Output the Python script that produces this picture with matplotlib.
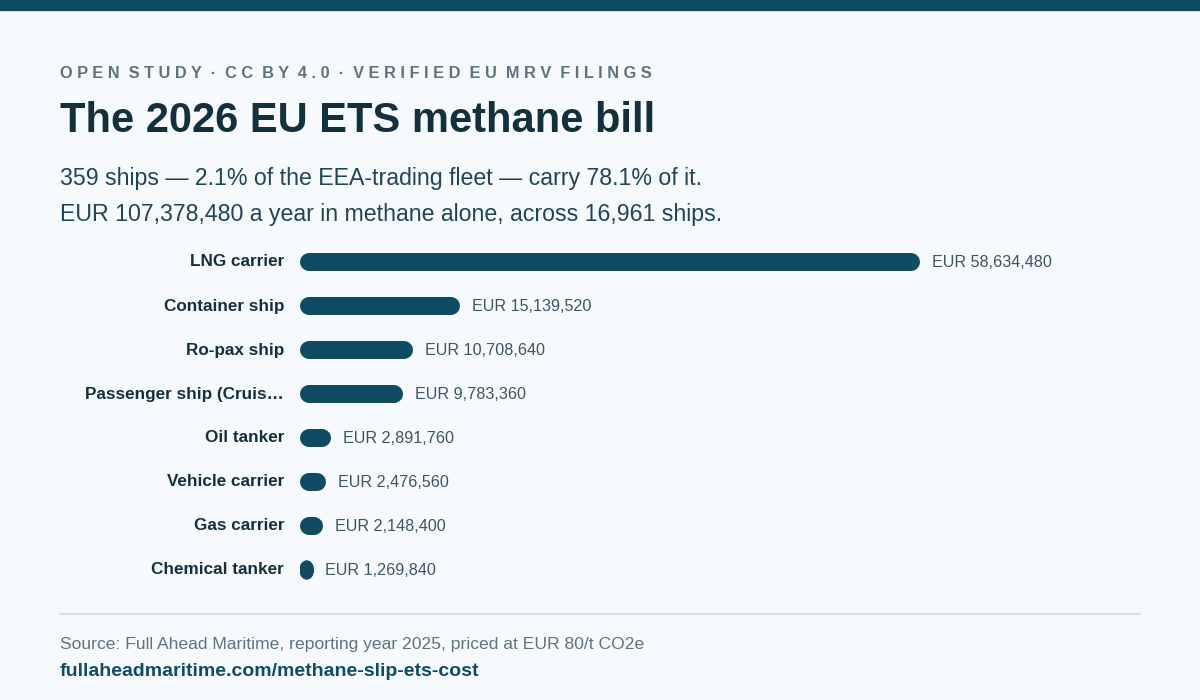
import matplotlib.pyplot as plt
from matplotlib.patches import Rectangle, Ellipse

categories = ['LNG carrier', 'Container ship', 'Ro-pax ship', 'Passenger ship (Cruis…',
              'Oil tanker', 'Vehicle carrier', 'Gas carrier', 'Chemical tanker']
costs = [58634480, 15139520, 10708640, 9783360, 2891760, 2476560, 2148400, 1269840]

bg = '#f6fafd'
bar_color = '#0f4c63'
dark = '#13303f'
grey = '#5d7380'

plt.rcParams['font.family'] = ['Liberation Sans', 'DejaVu Sans']
fig = plt.figure(figsize=(12, 7), dpi=100, facecolor=bg)

# top stripe
fig.patches.append(Rectangle((0, 1 - 10 / 700), 1, 10 / 700, transform=fig.transFigure,
                             color=bar_color, zorder=0))

header = '  ·  '.join(' '.join(w) for w in ['OPEN', 'STUDY']) if False else None
header = 'O P E N  S T U D Y  ·  C C  B Y  4 . 0  ·  V E R I F I E D  E U  M R V  F I L I N G S'
fig.text(60 / 1200, 1 - 74 / 700, header, fontsize=11.8, color=grey, fontweight='bold', va='center')
fig.text(60 / 1200, 1 - 121 / 700, 'The 2026 EU ETS methane bill', fontsize=30,
         color=dark, fontweight='bold', va='center')
fig.text(60 / 1200, 1 - 178 / 700, '359 ships — 2.1% of the EEA-trading fleet — carry 78.1% of it.',
         fontsize=16.7, color='#1f4556', va='center')
fig.text(60 / 1200, 1 - 214 / 700, 'EUR 107,378,480 a year in methane alone, across 16,961 ships.',
         fontsize=16.7, color='#1f4556', va='center')

# chart axes: 300px..1140px wide, rows 44px tall starting at 240px
ax_left, ax_right = 300, 1140
ax = fig.add_axes([ax_left / 1200, 1 - 592 / 700, (ax_right - ax_left) / 1200, 352 / 700])
ax.set_facecolor(bg)
px_per_unit = 620 / costs[0]
ax.set_xlim(0, (ax_right - ax_left) / px_per_unit)
ax.set_ylim(len(categories) - 0.5, -0.5)
ax.axis('off')

r = 9 / px_per_unit
lw = 18 * 72 / 100
for i, (cat, v) in enumerate(zip(categories, costs)):
    if v > 2 * r:
        ax.plot([r, v - r], [i, i], color=bar_color, lw=lw, solid_capstyle='round')
    else:
        ax.add_patch(Ellipse((v / 2, i), v, 18 / 44, color=bar_color))
    ax.text(v + 12 / px_per_unit, i + 0.02, f'EUR {v:,}', fontsize=11.6, color='#3c5563',
            va='center', ha='left')
    ax.text(-16 / px_per_unit, i, cat, fontsize=12.3, color=dark, fontweight='bold',
            va='center', ha='right', clip_on=False)

# divider and footer
fig.add_artist(plt.Line2D([60 / 1200, 1140 / 1200], [1 - 614 / 700] * 2,
                          color='#d5dde2', lw=1.2))
fig.text(60 / 1200, 1 - 645 / 700, 'Source: Full Ahead Maritime, reporting year 2025, priced at EUR 80/t CO2e',
         fontsize=12.6, color=grey, va='center')
fig.text(60 / 1200, 1 - 672 / 700, 'fullaheadmaritime.com/methane-slip-ets-cost',
         fontsize=14, color=bar_color, fontweight='bold', va='center')

fig.savefig('out.png', facecolor=bg)
